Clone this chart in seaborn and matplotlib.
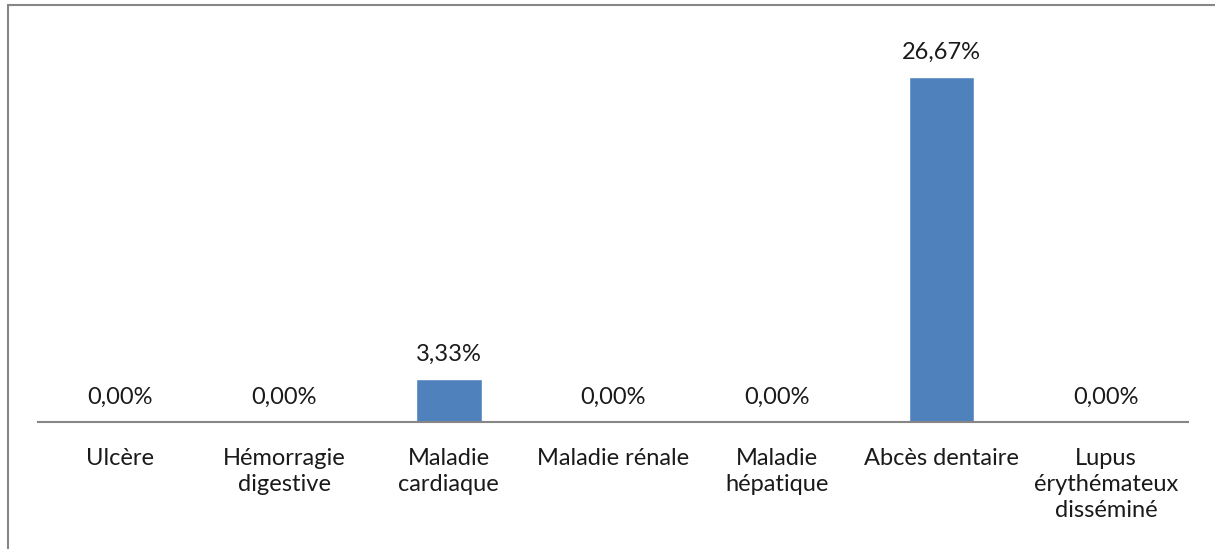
import matplotlib
matplotlib.use('Agg')
import matplotlib.pyplot as plt
from matplotlib.lines import Line2D
import seaborn as sns
import pandas as pd

# -- Donnees --
CATEGORIES = ["Ulcère", "Hémorragie\ndigestive", "Maladie\ncardiaque",
              "Maladie rénale", "Maladie\nhépatique", "Abcès dentaire",
              "Lupus\nérythémateux\ndisséminé"]
VALUES = [0.00, 0.00, 3.33, 0.00, 0.00, 26.67, 0.00]

BAR_COLOR = "#4F81BD"
LINE_COLOR = "#868686"
FONT_SIZE = 17

sns.set_style("white")
plt.rcParams['font.family'] = ['Lato', 'DejaVu Sans']

df = pd.DataFrame({"cat": CATEGORIES, "val": VALUES})

fig = plt.figure(figsize=(12.15, 5.49), dpi=100)
ax = fig.add_axes([38 / 1215, 127 / 549, 1150 / 1215, 388 / 549])

sns.barplot(data=df, x="cat", y="val", color=BAR_COLOR, width=0.4,
            saturation=1, ax=ax)

labels = [f"{v:.2f}%".replace(".", ",") for v in VALUES]
ax.bar_label(ax.containers[0], labels=labels, padding=10, fontsize=FONT_SIZE,
             color="#1a1a1a")

ax.set_ylim(0, 30)
ax.set_xlim(-0.5, len(CATEGORIES) - 0.5)
ax.set_xlabel("")
ax.set_ylabel("")
ax.set_yticks([])
ax.tick_params(axis='x', length=0, pad=19, labelsize=FONT_SIZE,
               labelcolor="#1a1a1a")
for lbl in ax.get_xticklabels():
    lbl.set_linespacing(1.27)
    lbl.set_verticalalignment('top')

for side in ['top', 'right', 'left']:
    ax.spines[side].set_visible(False)
ax.spines['bottom'].set_color(LINE_COLOR)
ax.spines['bottom'].set_linewidth(1.5)

# cadre du graphique (gauche et haut)
fig.add_artist(Line2D([8 / 1215, 8 / 1215], [0, 1 - 5 / 549],
                      transform=fig.transFigure, color=LINE_COLOR, lw=1.5))
fig.add_artist(Line2D([8 / 1215, 1], [1 - 5 / 549, 1 - 5 / 549],
                      transform=fig.transFigure, color=LINE_COLOR, lw=1.5))

fig.savefig("out.png", dpi=100)
plt.close(fig)
